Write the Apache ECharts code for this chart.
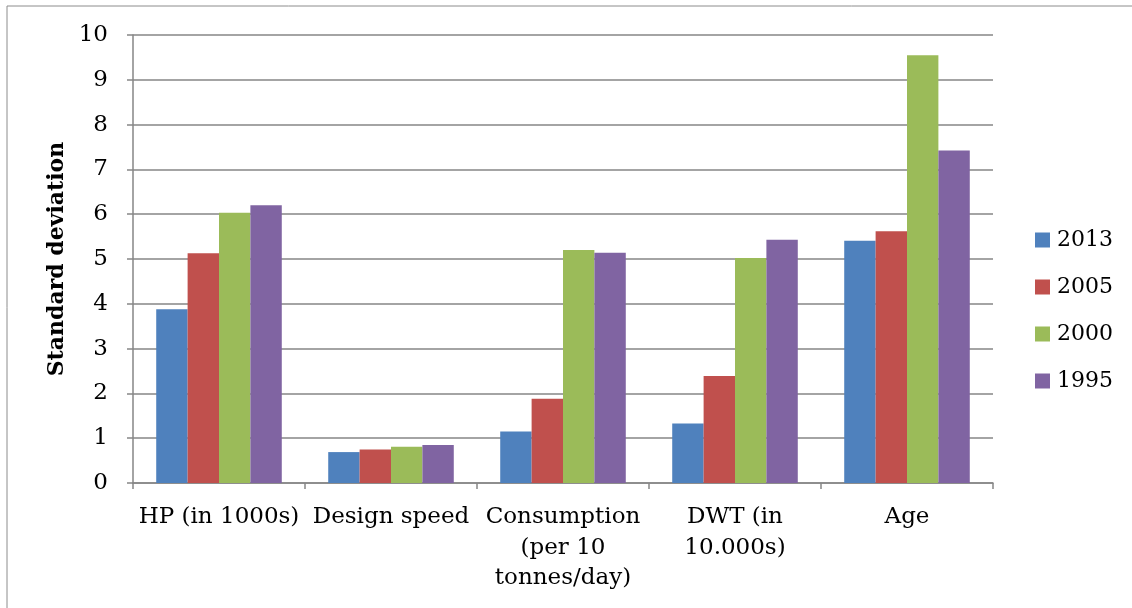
<!DOCTYPE html>
<html>
<head>
<meta charset="utf-8">
<script src="https://cdn.jsdelivr.net/npm/echarts@6/dist/echarts.min.js"></script>
<style>
  html, body { margin: 0; padding: 0; background: #fff; }
  #chart { width: 1132px; height: 608px; }
</style>
</head>
<body>
<div id="chart"></div>
<script>
// Categories along the x axis
const categories = [
  'HP (in 1000s)',
  'Design speed',
  'Consumption\n(per 10\ntonnes/day)',
  'DWT (in\n10.000s)',
  'Age'
];

// Standard deviation per year
const s2013 = [3.88, 0.69, 1.15, 1.33, 5.41];
const s2005 = [5.13, 0.75, 1.88, 2.39, 5.62];
const s2000 = [6.03, 0.81, 5.20, 5.02, 9.55];
const s1995 = [6.20, 0.85, 5.14, 5.43, 7.42];

const seriesNames = ['2013', '2005', '2000', '1995'];
const seriesData = [s2013, s2005, s2000, s1995];
const colors = ['#4F81BD', '#C0504D', '#9BBB59', '#8064A2'];

const FONT = 'DejaVu Serif';
const chart = echarts.init(document.getElementById('chart'), null, { renderer: 'canvas' });

chart.setOption({
  animation: false,
  textStyle: { fontFamily: FONT, color: '#000' },
  graphic: [{
    type: 'rect',
    shape: { x: 7, y: 6, width: 1140, height: 620 },
    style: { fill: 'none', stroke: '#8c8c8c', lineWidth: 1 },
    silent: true
  }],
  grid: { left: 133, right: 139, top: 35, bottom: 125, containLabel: false },
  legend: {
    orient: 'vertical',
    left: 1030,
    top: 224,
    itemWidth: 15,
    itemHeight: 15,
    itemGap: 25,
    icon: 'rect',
    textStyle: { fontFamily: FONT, fontSize: 22, color: '#000', padding: [0, 0, 0, 2] },
    data: seriesNames
  },
  xAxis: {
    type: 'category',
    data: categories,
    axisLine: { lineStyle: { color: '#868686', width: 1.5 } },
    axisTick: { show: true, alignWithLabel: false, length: 6, lineStyle: { color: '#868686', width: 1.5 } },
    axisLabel: { fontFamily: FONT, fontSize: 23, color: '#000', margin: 19, lineHeight: 30.5, interval: 0 }
  },
  yAxis: {
    type: 'value',
    min: 0,
    max: 10,
    interval: 1,
    name: 'Standard deviation',
    nameLocation: 'middle',
    nameGap: 61,
    nameRotate: 90,
    nameTextStyle: { fontFamily: FONT, fontSize: 22, fontWeight: 'bold', color: '#000' },
    axisLine: { show: true, lineStyle: { color: '#868686', width: 1.5 } },
    axisTick: { show: true, length: 6, lineStyle: { color: '#868686', width: 1.5 } },
    axisLabel: { fontFamily: FONT, fontSize: 23, color: '#000', margin: 25 },
    splitLine: { show: true, lineStyle: { color: '#868686', width: 1.5 } }
  },
  series: seriesNames.map((name, i) => ({
    name: name,
    type: 'bar',
    data: seriesData[i],
    barGap: '0%',
    barCategoryGap: '27%',
    itemStyle: { color: colors[i] }
  }))
});
</script>
</body>
</html>
